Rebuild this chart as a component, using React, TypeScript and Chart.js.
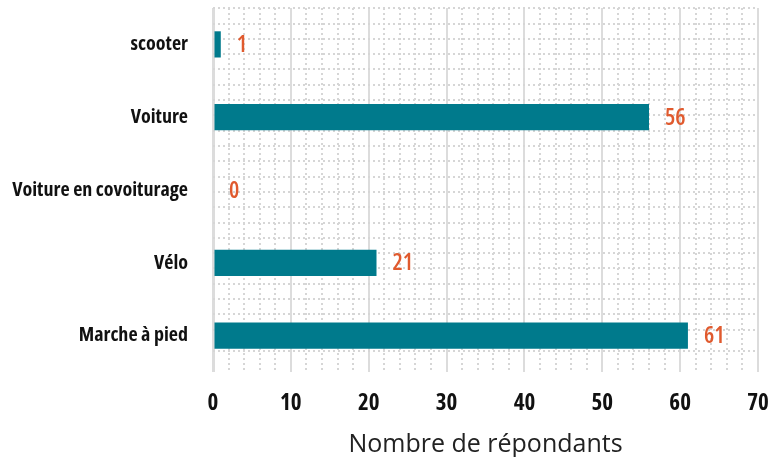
import React, { useEffect, useRef } from "react";
import { Chart, registerables } from "chart.js";

Chart.register(...registerables);

const categories = ["scooter", "Voiture", "Voiture en covoiturage", "Vélo", "Marche à pied"];
const values = [1, 56, 0, 21, 61];
const xMin = 0;
const xMax = 70;
const axisTitle = "Nombre de répondants";

const COND = "'Open Sans', sans-serif";

const zeroPadding = (s: any) => {
  s.paddingTop = 0;
  s.paddingBottom = 0;
  s.paddingLeft = 0;
  s.paddingRight = 0;
};

const valueLabels = {
  id: "valueLabels",
  afterDatasetsDraw(chart: any) {
    const ctx = chart.ctx;
    const meta = chart.getDatasetMeta(0);
    ctx.save();
    ctx.fillStyle = "#E05A2E";
    ctx.font = `600 condensed 23px ${COND}`;
    ctx.textAlign = "left";
    ctx.textBaseline = "middle";
    meta.data.forEach((bar: any, i: number) => {
      ctx.fillText(String(values[i]), bar.x + 16, bar.y + 1);
    });
    ctx.restore();
  },
};

export default function App() {
  const ref = useRef<HTMLCanvasElement | null>(null);
  useEffect(() => {
    document.body.style.margin = "0";
    const chart = new Chart(ref.current!, {
      type: "bar",
      data: {
        labels: categories,
        datasets: [
          {
            data: values,
            backgroundColor: "#007A8C",
            barPercentage: 0.36,
            categoryPercentage: 1,
            xAxisID: "x",
            yAxisID: "y",
          },
        ],
      },
      plugins: [valueLabels],
      options: {
        indexAxis: "y",
        animation: false,
        responsive: false,
        maintainAspectRatio: false,
        layout: { padding: { top: 8, right: 13, left: 0, bottom: 0 } },
        plugins: { legend: { display: false }, tooltip: { enabled: false } },
        scales: {
          x: {
            type: "linear",
            position: "bottom",
            min: xMin,
            max: xMax,
            ticks: {
              stepSize: 10,
              padding: 18,
              color: "#111",
              font: { family: COND, size: 23, weight: "bold condensed" },
            },
            grid: {
              color: "#dcdcdc",
              lineWidth: (c: any) => (c.tick && c.tick.value === 0 ? 3 : 2),
              drawTicks: false,
            },
            border: { display: false },
            title: {
              display: true,
              text: axisTitle,
              color: "#222",
              font: { family: "'Open Sans', sans-serif", size: 25, lineHeight: 1 },
              padding: { top: 0, bottom: 0 },
            },
            afterFit: (s: any) => {
              s.height = 85;
              zeroPadding(s);
            },
          },
          x2: {
            type: "linear",
            position: "bottom",
            min: xMin,
            max: xMax,
            weight: 10,
            ticks: { display: false, stepSize: 2 },
            grid: {
              drawTicks: false,
              lineWidth: 2,
              color: (c: any) => (c.tick && c.tick.value % 10 === 0 ? "rgba(0,0,0,0)" : "#d6d6d6"),
            },
            border: { display: false, dash: [2, 3] },
            afterFit: (s: any) => {
              s.height = 0;
              zeroPadding(s);
            },
          },
          y: {
            type: "category",
            position: "left",
            ticks: {
              padding: 25,
              color: "#111",
              font: { family: COND, size: 20, weight: "bold condensed" },
            },
            grid: { display: false, drawTicks: false },
            border: { display: false },
            afterFit: (s: any) => {
              s.width = 213;
              zeroPadding(s);
            },
          },
          y2: {
            type: "linear",
            position: "left",
            reverse: true,
            min: 0,
            max: 22.75,
            ticks: { display: false, stepSize: 1 },
            grid: { drawTicks: false, lineWidth: 2, color: "#d6d6d6" },
            border: { display: false, dash: [2, 3] },
            afterFit: (s: any) => {
              s.width = 0;
              zeroPadding(s);
            },
          },
        },
      } as any,
    });
    return () => chart.destroy();
  }, []);
  return (
    <div style={{ width: 771, height: 457 }}>
      <canvas ref={ref} width={771} height={457} style={{ width: 771, height: 457 }} />
    </div>
  );
}
